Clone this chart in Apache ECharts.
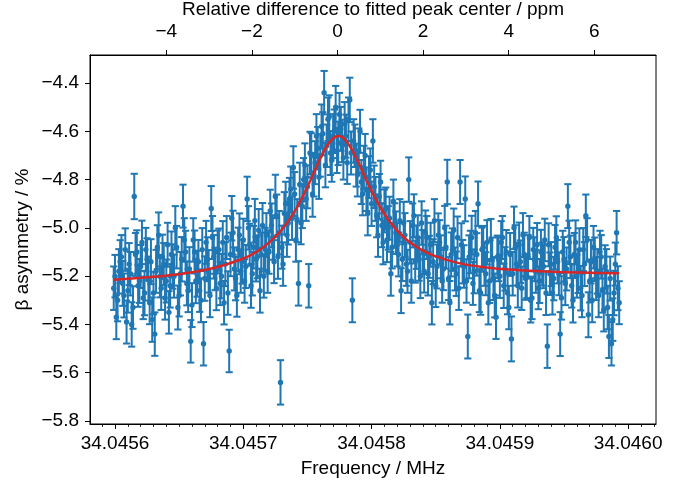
<!DOCTYPE html>
<html>
<head>
<meta charset="utf-8">
<script src="https://cdn.jsdelivr.net/npm/echarts@6/dist/echarts.min.js"></script>
<style>html,body{margin:0;padding:0;background:#fff}#c{width:676px;height:484px}</style>
</head>
<body>
<div id="c"></div>
<script>
// ---- data ----
const FREQ_START_MHZ = 34.045599;   // first measured frequency
const FREQ_STEP_MHZ = 0.000001;     // frequency step (1 Hz)
const asymmetry = [
-5.25,-5.20,-5.37,-5.30,-5.18,-5.14,-5.12,-5.23,-5.28,-5.09,-5.39,-5.26,-5.15,-5.19,-5.40,-5.33,-4.87,-5.11,-5.10,-5.24,
-5.22,-5.16,-5.06,-5.29,-5.27,-5.09,-5.13,-5.21,-5.31,-5.14,-5.38,-5.27,-5.44,-5.18,-5.08,-5.03,-5.20,-5.25,-5.12,-5.15,
-5.29,-5.22,-5.07,-5.35,-5.24,-5.11,-5.16,-5.20,-5.00,-5.08,-5.33,-5.28,-5.19,-5.13,-4.91,-5.05,-5.10,-5.23,-5.26,-5.17,
-5.47,-5.32,-5.05,-5.10,-5.22,-5.19,-5.14,-5.26,-5.30,-5.09,-5.48,-5.21,-5.06,-5.13,-5.18,-5.28,-4.92,-5.04,-5.12,-5.17,
-5.25,-5.10,-5.09,-5.23,-5.20,-5.06,-5.31,-5.15,-5.04,-5.27,-5.51,-5.11,-4.96,-5.02,-5.17,-5.21,-5.28,-5.09,-5.03,-5.18,
-5.14,-5.05,-5.22,-5.16,-4.88,-5.00,-5.07,-5.24,-5.19,-5.08,-4.97,-5.13,-5.12,-5.01,-5.26,-5.11,-4.99,-5.20,-5.09,-5.03,
-5.18,-5.10,-4.93,-4.99,-5.04,-5.14,-4.87,-4.95,-5.12,-5.02,-5.64,-5.08,-5.15,-4.94,-4.90,-5.03,-4.98,-4.88,-4.84,-4.96,
-4.75,-4.86,-5.05,-4.97,-5.23,-4.82,-4.98,-4.91,-4.80,-4.74,-4.88,-4.83,-5.24,-4.69,-4.70,-4.86,-4.78,-4.73,-4.62,-4.67,
-4.79,-4.70,-4.58,-4.61,-4.44,-4.74,-4.66,-4.55,-4.54,-4.69,-4.72,-4.62,-4.60,-4.50,-4.68,-4.65,-4.53,-4.59,-4.64,-4.71,
-4.57,-4.62,-4.73,-4.55,-4.47,-4.69,-5.30,-4.64,-4.66,-4.74,-4.78,-4.68,-4.60,-4.81,-4.86,-4.75,-4.70,-4.84,-4.94,-4.79,
-4.76,-4.90,-4.64,-4.83,-4.88,-4.95,-5.03,-4.87,-4.81,-4.99,-5.06,-4.93,-4.92,-5.05,-5.00,-4.96,-5.19,-5.08,-4.89,-4.99,
-5.02,-5.07,-5.11,-4.97,-5.26,-5.13,-4.98,-5.03,-5.15,-5.18,-4.80,-5.06,-5.22,-4.99,-4.95,-5.14,-5.08,-5.04,-5.13,-5.20,
-4.98,-5.10,-5.18,-5.02,-5.04,-5.19,-5.12,-5.07,-5.31,-5.14,-4.97,-5.24,-5.16,-5.03,-5.06,-5.12,-5.22,-5.17,-5.00,-5.08,
-4.81,-5.21,-5.31,-5.11,-5.09,-5.01,-5.17,-5.19,-5.04,-5.25,-4.81,-5.07,-5.14,-5.16,-4.88,-5.22,-5.45,-5.12,-5.10,-5.04,
-5.23,-5.18,-5.02,-5.11,-4.90,-5.26,-5.27,-5.09,-5.08,-5.15,-5.19,-5.06,-5.31,-5.22,-5.05,-5.13,-5.21,-5.28,-5.37,-5.12,
-5.13,-5.20,-5.06,-5.04,-5.24,-5.17,-5.10,-5.27,-5.33,-5.11,-5.46,-5.19,-5.00,-5.08,-5.15,-5.24,-5.07,-5.14,-5.25,-5.03,
-5.11,-5.21,-5.20,-5.12,-5.04,-5.30,-5.29,-5.09,-5.13,-5.18,-5.07,-5.25,-5.22,-5.10,-5.15,-5.16,-5.05,-5.27,-5.49,-5.07,
-5.19,-5.15,-5.27,-5.21,-5.08,-5.04,-5.14,-5.19,-5.44,-5.29,-5.10,-5.13,-5.23,-5.17,-4.91,-5.06,-5.12,-5.24,-5.30,-5.11,
-5.06,-5.20,-5.18,-5.09,-5.25,-5.28,-5.09,-5.15,-4.95,-5.05,-5.36,-5.22,-5.14,-5.30,-5.08,-5.13,-5.21,-5.18,-5.28,-5.10,
-5.12,-5.26,-5.34,-5.16,-5.18,-5.33,-5.45,-5.21,-5.48,-5.38,-5.27,-5.15,-5.02,-5.25,-5.31
];
const asymmetryErr = [
0.090,0.088,0.091,0.087,0.092,0.089,0.090,0.093,0.091,0.088,0.089,0.091,0.087,0.090,0.092,0.088,0.094,0.089,0.090,0.087,
0.091,0.089,0.090,0.088,0.092,0.090,0.087,0.091,0.089,0.093,0.092,0.088,0.090,0.089,0.091,0.094,0.088,0.090,0.092,0.087,
0.090,0.089,0.091,0.088,0.090,0.095,0.092,0.089,0.090,0.088,0.091,0.087,0.090,0.092,0.089,0.090,0.088,0.091,0.089,0.090,
0.088,0.091,0.090,0.089,0.092,0.095,0.090,0.088,0.091,0.089,0.090,0.092,0.089,0.091,0.088,0.090,0.093,0.089,0.090,0.088,
0.091,0.089,0.087,0.090,0.092,0.088,0.090,0.091,0.089,0.090,0.088,0.090,0.092,0.091,0.089,0.090,0.088,0.091,0.090,0.089,
0.091,0.088,0.090,0.089,0.092,0.090,0.087,0.091,0.090,0.088,0.090,0.092,0.089,0.088,0.091,0.090,0.093,0.089,0.090,0.091,
0.089,0.090,0.088,0.091,0.092,0.089,0.090,0.088,0.091,0.090,0.092,0.089,0.090,0.088,0.091,0.090,0.089,0.087,0.094,0.090,
0.088,0.091,0.090,0.089,0.092,0.090,0.088,0.091,0.089,0.090,0.091,0.089,0.090,0.088,0.092,0.094,0.090,0.089,0.091,0.088,
0.090,0.088,0.091,0.089,0.090,0.092,0.088,0.090,0.089,0.091,0.089,0.091,0.090,0.088,0.093,0.090,0.089,0.091,0.088,0.090,
0.091,0.089,0.088,0.090,0.092,0.089,0.091,0.090,0.088,0.089,0.090,0.092,0.089,0.091,0.088,0.090,0.089,0.090,0.091,0.087,
0.089,0.092,0.090,0.088,0.091,0.089,0.090,0.093,0.088,0.090,0.091,0.089,0.087,0.092,0.090,0.089,0.091,0.088,0.090,0.092,
0.088,0.090,0.091,0.089,0.093,0.090,0.088,0.091,0.090,0.089,0.092,0.088,0.090,0.091,0.089,0.087,0.090,0.092,0.089,0.091,
0.090,0.091,0.088,0.092,0.089,0.090,0.087,0.091,0.090,0.093,0.089,0.088,0.091,0.090,0.092,0.089,0.090,0.088,0.091,0.089,
0.092,0.089,0.090,0.091,0.088,0.090,0.089,0.092,0.087,0.090,0.091,0.089,0.090,0.088,0.093,0.090,0.091,0.089,0.088,0.090,
0.089,0.091,0.090,0.088,0.092,0.089,0.090,0.091,0.088,0.090,0.089,0.092,0.090,0.091,0.087,0.090,0.089,0.091,0.090,0.088,
0.091,0.090,0.088,0.089,0.092,0.090,0.091,0.088,0.090,0.089,0.093,0.090,0.088,0.091,0.089,0.090,0.092,0.088,0.090,0.091,
0.090,0.088,0.091,0.090,0.089,0.092,0.088,0.090,0.091,0.089,0.090,0.087,0.091,0.092,0.089,0.090,0.088,0.091,0.090,0.089,
0.088,0.091,0.089,0.090,0.092,0.088,0.090,0.089,0.091,0.090,0.088,0.092,0.090,0.089,0.091,0.090,0.088,0.090,0.092,0.089,
0.091,0.089,0.090,0.088,0.092,0.090,0.089,0.091,0.088,0.090,0.093,0.089,0.090,0.091,0.088,0.090,0.089,0.092,0.090,0.088,
0.090,0.091,0.089,0.088,0.092,0.090,0.089,0.091,0.090,0.088,0.092,0.089,0.090,0.091,0.089
];
// fitted curve (offset from 34.0456 MHz in Hz, asymmetry %)
const fitOffsetHz = [-1,20,40,60,80,100,110,120,130,140,150,155,160,165,170,174,178,183,188,193,198,208,218,228,238,248,268,288,310,340,370,393];
const fitValues  = [-5.215,-5.207,-5.198,-5.184,-5.162,-5.127,-5.100,-5.061,-5.008,-4.932,-4.830,-4.771,-4.713,-4.662,-4.629,-4.620,-4.628,-4.661,-4.710,-4.768,-4.825,-4.926,-5.000,-5.052,-5.088,-5.114,-5.146,-5.163,-5.174,-5.182,-5.186,-5.188];
const FIT_REF_MHZ = 34.0456;
// axes
const freqTicks = [34.0456, 34.0457, 34.0458, 34.0459, 34.0460];
const ppmTicks = [-4, -2, 0, 2, 4, 6];
const yTicks = [-5.8, -5.6, -5.4, -5.2, -5.0, -4.8, -4.6, -4.4];
const X_MIN = 34.0455805, X_MAX = 34.0460217;
const PPM_MIN = -5.783, PPM_MAX = 7.442;
const Y_MIN = -5.8124, Y_MAX = -4.284;

// ---- build ----
const BLUE = '#1f77b4', RED = '#d62728';
const FONT = 'Liberation Sans';
const FS = 19;
const pts = asymmetry.map((v, i) => [FREQ_START_MHZ + i * FREQ_STEP_MHZ, v, asymmetryErr[i]]);
const fitLine = fitOffsetHz.map((h, i) => [FIT_REF_MHZ + h * 1e-6, fitValues[i]]);
const minorTicks = [];
for (let k = -2; k <= 42; k++) {
  const v = 34.0456 + k * 0.00001;
  if (v >= X_MIN && v <= X_MAX && k % 10 !== 0) minorTicks.push(v);
}
const minus = s => s.replace('-', '\u2212');
const txt = {fontFamily: FONT, fontSize: FS, color: '#000'};

const chart = echarts.init(document.getElementById('c'), null, {renderer: 'canvas'});
chart.setOption({
  animation: false,
  backgroundColor: '#fff',
  grid: {left: 90, right: 20, top: 55, bottom: 60, containLabel: false, outerBoundsMode: 'none',
         show: true, borderColor: '#000', borderWidth: 1},
  xAxis: [
    {
      type: 'value', position: 'bottom', min: X_MIN, max: X_MAX,
      name: 'Frequency / MHz', nameLocation: 'middle', nameGap: 35, nameMoveOverlap: false, nameTextStyle: txt,
      axisLine: {show: true, onZero: false, lineStyle: {color: '#000', width: 1}},
      axisTick: {show: true, length: 5, customValues: freqTicks, lineStyle: {color: '#000', width: 1}},
      axisLabel: Object.assign({show: true, customValues: freqTicks, formatter: v => v.toFixed(4), margin: 10}, txt),
      splitLine: {show: false}
    },
    {
      type: 'value', position: 'bottom', min: X_MIN, max: X_MAX,
      axisLine: {show: false, onZero: false},
      axisTick: {show: true, length: 3, customValues: minorTicks, lineStyle: {color: '#000', width: 0.8}},
      axisLabel: {show: false, customValues: minorTicks},
      splitLine: {show: false}
    },
    {
      type: 'value', position: 'top', min: PPM_MIN, max: PPM_MAX,
      name: 'Relative difference to fitted peak center / ppm', nameLocation: 'middle', nameGap: 36, nameMoveOverlap: false, nameTextStyle: txt,
      axisLine: {show: true, onZero: false, lineStyle: {color: '#000', width: 1}},
      axisTick: {show: true, length: 5, customValues: ppmTicks, lineStyle: {color: '#000', width: 1}},
      axisLabel: Object.assign({show: true, customValues: ppmTicks, formatter: v => minus(String(Math.round(v))), margin: 14}, txt),
      splitLine: {show: false}
    }
  ],
  yAxis: [{
    type: 'value', min: Y_MIN, max: Y_MAX,
    name: '\u03b2 asymmetry / %', nameLocation: 'middle', nameGap: 58, nameRotate: 90, nameMoveOverlap: false, nameTextStyle: txt,
    axisLine: {show: true, onZero: false, lineStyle: {color: '#000', width: 1}},
    axisTick: {show: true, length: 5, customValues: yTicks, lineStyle: {color: '#000', width: 1}},
    axisLabel: Object.assign({show: true, customValues: yTicks, formatter: v => minus(v.toFixed(1)), margin: 11}, txt),
    splitLine: {show: false}
  }],
  series: [
    {
      type: 'custom', xAxisIndex: 0, yAxisIndex: 0, z: 2,
      data: pts,
      encode: {x: 0, y: 1},
      renderItem: function (params, api) {
        const x = api.value(0), y = api.value(1), e = api.value(2);
        const p = api.coord([x, y]);
        const hi = api.coord([x, y + e]);
        const lo = api.coord([x, y - e]);
        const cw = 3.6;
        const st = {stroke: BLUE, lineWidth: 2};
        return {
          type: 'group',
          children: [
            {type: 'line', shape: {x1: p[0], y1: hi[1], x2: p[0], y2: lo[1]}, style: st},
            {type: 'line', shape: {x1: p[0] - cw, y1: hi[1], x2: p[0] + cw, y2: hi[1]}, style: st},
            {type: 'line', shape: {x1: p[0] - cw, y1: lo[1], x2: p[0] + cw, y2: lo[1]}, style: st},
            {type: 'circle', shape: {cx: p[0], cy: p[1], r: 2.7}, style: {fill: BLUE}}
          ]
        };
      }
    },
    {
      type: 'line', xAxisIndex: 0, yAxisIndex: 0, z: 5,
      data: fitLine, smooth: 0.4, showSymbol: false, symbol: 'none',
      lineStyle: {color: RED, width: 2.5}
    }
  ]
});
</script>
</body>
</html>
